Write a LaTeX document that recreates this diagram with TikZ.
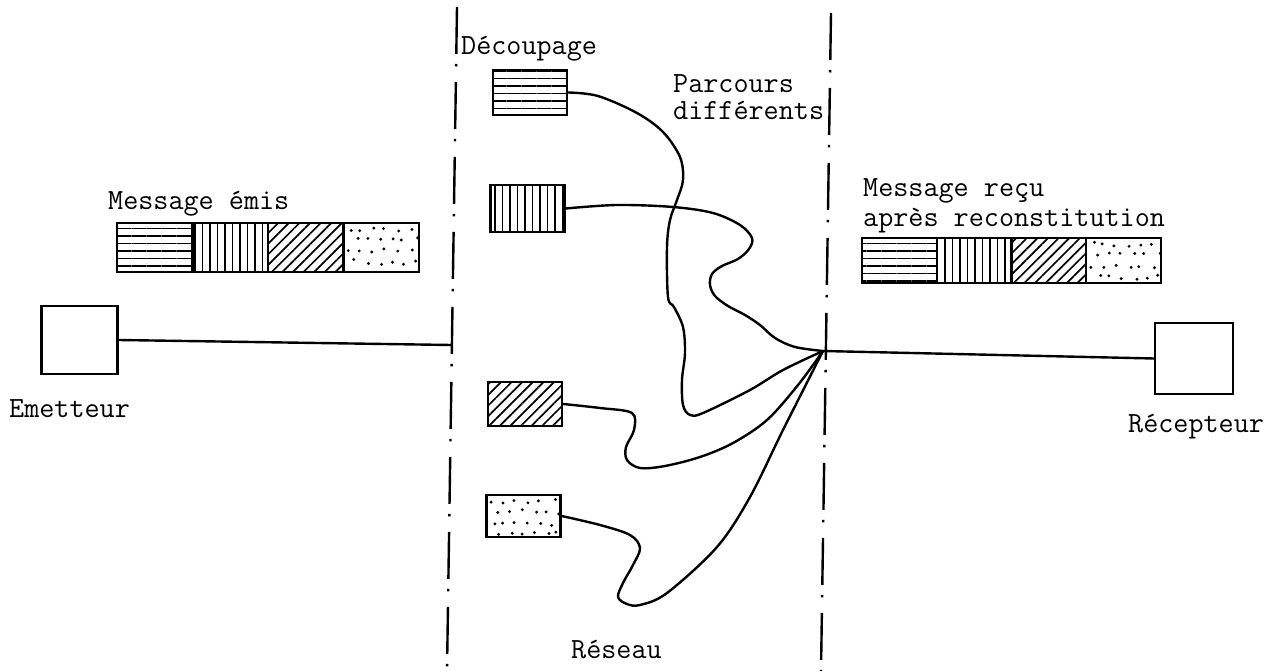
\documentclass[tikz,border=0pt]{standalone}
\usepackage{fontspec}
\usetikzlibrary{patterns.meta}
\newcommand\lblfont{\ttfamily\fontsize{29.3pt}{34pt}\selectfont}
\begin{document}
\begin{tikzpicture}[x=1pt,y=-1pt,line width=2.4pt,
  lbl/.style={font=\lblfont, inner sep=0pt, anchor=base west},
  cellbase/.style={draw, line width=2.4pt, inner sep=0pt, minimum width=74pt, minimum height=45pt},
  hcell/.style={cellbase, pattern={Lines[angle=0,distance=7.5pt,line width=1.7pt]}},
  vcell/.style={cellbase, pattern={Lines[angle=90,distance=7.5pt,line width=1.7pt]}},
  dcell/.style={cellbase, pattern={Lines[angle=45,distance=7.5pt,line width=1.7pt]}},
  pcell/.default=3,
  pcell/.style={cellbase, path picture={
    \pgfmathsetseed{#1}
    \foreach \r in {0,...,3}{
      \foreach \c in {0,...,5}{
        \pgfmathsetmacro\dx{6+12*\c+6*mod(\r,2)+rnd*6-3}
        \pgfmathsetmacro\dy{6+11*\r+rnd*5-2.5}
        \fill ([xshift=\dx pt, yshift=-\dy pt]path picture bounding box.north west) circle[radius=1.6pt];
      }}}},
  station/.style={draw, line width=2.4pt, inner sep=0pt, minimum width=76pt, minimum height=68pt},
  sep/.style={line width=2.4pt, dash pattern=on 47pt off 10pt on 2.5pt off 15.5pt},
  link/.style={line width=2.4pt, line join=round, line cap=round},
  curve/.style={line width=2.4pt, line join=round, line cap=round}]
\useasboundingbox (0,0) rectangle (1275,671);

% network boundaries
\coordinate (lt) at (457,7);
\coordinate (lb) at (447,671);
\coordinate (rt) at (831,13);
\coordinate (rb) at (821,671);
\draw[sep] (lt) -- (lb);
\draw[sep] (rt) -- (rb);

% stations
\node[station] (E) at (79.5,340) {};
\node[station, minimum width=78pt, minimum height=71pt] (R) at (1194,358.5) {};
\coordinate (L) at (451,345);
\coordinate (C) at (823,351);
\draw[link] (E.east) -- (L);
\draw[link] (C) -- (R.west);

% emitted message
\node[hcell, minimum width=75.5pt, minimum height=49pt] (e1) at (154.75,247.5) {};
\node[vcell, minimum width=75.5pt, minimum height=49pt] (e2) at (230.25,247.5) {};
\node[dcell, minimum width=75.5pt, minimum height=49pt] (e3) at (305.75,247.5) {};
\node[pcell=4, minimum width=75.5pt, minimum height=49pt] (e4) at (381.25,247.5) {};

% received message
\node[hcell, minimum width=74.75pt] (r1) at (899.4,260.5) {};
\node[vcell, minimum width=74.75pt] (r2) at (974.1,260.5) {};
\node[dcell, minimum width=74.75pt] (r3) at (1048.9,260.5) {};
\node[pcell=7, minimum width=74.75pt] (r4) at (1123.6,260.5) {};

% packets
\node[hcell] (p1) at (530,92.5) {};
\node[vcell, minimum height=47pt] (p2) at (527.5,208.5) {};
\node[dcell, minimum height=44pt] (p3) at (525,404) {};
\node[pcell=9, minimum height=42pt] (p4) at (523.5,516) {};

% routes
\draw[curve] plot[smooth, tension=0.55] coordinates {(p1.east) (598,96) (637,113) (663,132) (680,157) (683,180) (677,200) (670,220) (667,247) (668,297) (674,307) (683,327) (685,353) (682,380) (683,405) (690,415) (703,413) (750,390) (783,370) (C)};
\draw[curve] plot[smooth, tension=0.55] coordinates {(p2.east) (617,205) (673,207) (713,213) (740,225) (752,238) (749,249) (738,259) (722,266) (712,274) (710,285) (715,296) (728,306) (745,315) (760,325) (775,338) (795,347) (C)};
\draw[curve] plot[smooth, tension=0.55] coordinates {(p3.east) (600,408) (632,413) (634,430) (626,447) (627,460) (640,468) (665,466) (700,457) (733,443) (767,420) (798,385) (C)};
\draw[curve] plot[smooth, tension=0.55] coordinates {(p4.east) (600,525) (630,535) (640,548) (633,565) (623,583) (618,597) (627,604) (640,605) (667,593) (717,547) (750,497) (783,430) (C)};

% labels
\node[lbl] (tmsg) at (107,210) {Message émis};
\node[lbl] (temt) at (8,417) {Emetteur};
\node[lbl] (tdec) at (460,55) {Découpage};
\node[lbl] (tpar1) at (672,93) {Parcours};
\node[lbl] (tpar2) at (672,120) {différents};
\node[lbl] (trec1) at (862,197) {Message reçu};
\node[lbl] (trec2) at (862,227) {après reconstitution};
\node[lbl] (trcp) at (1127,432) {Récepteur};
\node[lbl] (tres) at (570,658) {Réseau};
\end{tikzpicture}
\end{document}
